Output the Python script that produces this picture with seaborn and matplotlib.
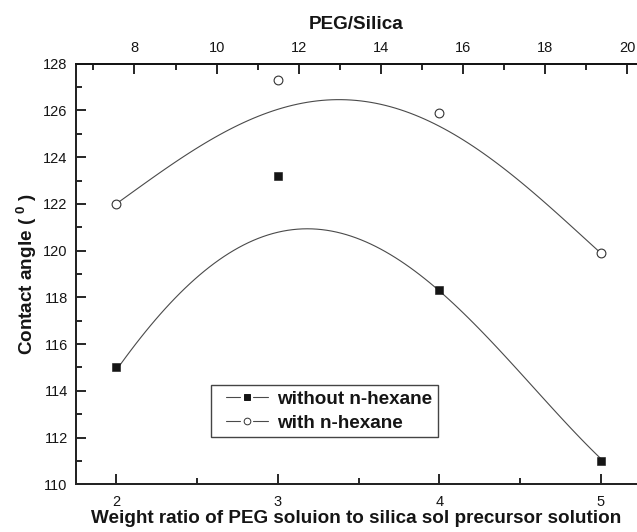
import numpy as np
import pandas as pd
import matplotlib
matplotlib.use("Agg")
import matplotlib.pyplot as plt
from matplotlib.lines import Line2D
from matplotlib.legend_handler import HandlerBase
import seaborn as sns

# ---- data: measured points ----
weight_ratio = [2, 3, 4, 5]
without_hexane = [115.0, 123.2, 118.3, 111.0]
with_hexane = [122.0, 127.3, 125.9, 119.9]
series_names = ["without n-hexane", "with n-hexane"]

# ---- data: fitted curves as drawn in the figure ----
curve_x = [2.0, 2.25, 2.5, 2.75, 3.0, 3.25, 3.5, 3.75, 4.0, 4.25, 4.5, 4.75, 5.0]
curve_without = [115.0, 116.95, 118.75, 120.15, 120.95, 121.05, 120.45, 119.5,
                 118.13, 116.6, 114.9, 113.0, 111.0]
curve_with = [122.0, 123.25, 124.4, 125.35, 126.05, 126.42, 126.38, 126.05,
              125.38, 124.26, 122.94, 121.46, 119.9]

bottom_ticks = [2, 3, 4, 5]
top_ticks = [8, 10, 12, 14, 16, 18, 20]
y_ticks = [110, 112, 114, 116, 118, 120, 122, 124, 126, 128]

sns.set_theme(style="ticks")
plt.rcParams["font.family"] = ["Liberation Sans", "DejaVu Sans"]
plt.rcParams["mathtext.fontset"] = "custom"
plt.rcParams["mathtext.rm"] = "Liberation Sans:bold"
plt.rcParams["mathtext.bf"] = "Liberation Sans:bold"
plt.rcParams["mathtext.it"] = "Liberation Sans:bold"

pts = pd.DataFrame({"ratio": weight_ratio, "without": without_hexane, "with": with_hexane})
crv = pd.DataFrame({"ratio": curve_x, "without": curve_without, "with": curve_with})

W, H = 637, 532
fig = plt.figure(figsize=(W / 100, H / 100), dpi=100)
ax = fig.add_axes([76 / W, 1 - 484.3 / H, (W - 76) / W, 420.6 / H])

line_col = "#4a4a4a"
ink = "#151515"

# fitted curves (smoothed through the library's polynomial regression)
sns.regplot(data=crv, x="ratio", y="without", order=4, ci=None, truncate=True,
            scatter=False, ax=ax, line_kws=dict(color=line_col, lw=0.8, zorder=2))
sns.regplot(data=crv, x="ratio", y="with", order=4, ci=None, truncate=True,
            scatter=False, ax=ax, line_kws=dict(color=line_col, lw=0.8, zorder=2))

# measured points
sns.scatterplot(data=pts, x="ratio", y="without", marker="s", s=34, color=ink,
                edgecolor=ink, linewidth=0.4, zorder=3, ax=ax)
sns.scatterplot(data=pts, x="ratio", y="with", marker="o", s=40, facecolor="white",
                edgecolor="#333333", linewidth=0.8, zorder=3, ax=ax)

ax.set_xlim(1.75, 5.224)
ax.set_ylim(110, 128)
ax.set_xticks(bottom_ticks)
ax.set_xticks([2.5, 3.5, 4.5], minor=True)
ax.set_yticks(y_ticks)
ax.set_yticks(np.arange(111, 128, 2), minor=True)
ax.set_xticklabels([str(t) for t in bottom_ticks])
ax.set_yticklabels([str(t) for t in y_ticks])

for side in ["left", "bottom", "top"]:
    ax.spines[side].set_linewidth(1.4)
    ax.spines[side].set_color(ink)
ax.spines["right"].set_visible(False)

ax.tick_params(which="major", direction="in", length=7, width=1.3, labelsize=10.5,
               pad=6, colors=ink, right=False, top=False)
ax.tick_params(axis="x", which="major", pad=8)
ax.tick_params(which="minor", direction="in", length=4, width=1.3, colors=ink,
               right=False, top=False)

ax.set_xlabel("Weight ratio of PEG soluion to silica sol precursor solution",
              fontsize=13.6, fontweight="bold", labelpad=0.5, color=ink)
ax.set_ylabel(r"Contact angle ( $^{0}$ )", fontsize=13.6, fontweight="bold",
              labelpad=3, color=ink)

# top axis (PEG/Silica)
ax2 = ax.twiny()
ax2.set_xlim(6.576, 20.24)
ax2.set_xticks(top_ticks)
ax2.set_xticks(np.arange(7, 21, 2), minor=True)
ax2.set_xticklabels([str(t) for t in top_ticks])
ax2.tick_params(which="major", direction="in", length=7, width=1.3, labelsize=10.5,
                pad=6, colors=ink)
ax2.tick_params(which="minor", direction="in", length=4, width=1.3, colors=ink)
ax2.spines["right"].set_visible(False)
ax2.spines["top"].set_linewidth(1.4)
ax2.spines["top"].set_color(ink)
ax2.set_xlabel("PEG/Silica", fontsize=13.6, fontweight="bold", labelpad=9, color=ink)


class GapHandler(HandlerBase):
    """Origin-style legend symbol: line - marker - line with small gaps."""

    def __init__(self, marker, mfc, mec, ms, offset=7.0, gap=4.5):
        super().__init__()
        self.marker, self.mfc, self.mec, self.ms = marker, mfc, mec, ms
        self.offset, self.gap = offset, gap

    def create_artists(self, legend, orig_handle, xdescent, ydescent, width, height,
                       fontsize, trans):
        x0 = -xdescent + self.offset
        x1 = -xdescent + width
        y = -ydescent + height / 2.0
        xm = (x0 + x1) / 2.0
        l1 = Line2D([x0, xm - self.gap], [y, y], color=line_col, lw=0.8)
        l2 = Line2D([xm + self.gap, x1], [y, y], color=line_col, lw=0.8)
        m = Line2D([xm], [y], linestyle="none", marker=self.marker, ms=self.ms,
                   mfc=self.mfc, mec=self.mec, mew=0.7)
        for a in (l1, l2, m):
            a.set_transform(trans)
        return [l1, l2, m]


h1 = Line2D([], [], color=line_col)
h2 = Line2D([], [], color=line_col, marker="o")
leg = ax.legend([h1, h2], series_names, loc="lower left", bbox_to_anchor=(0.2398, 0.1125),
                borderaxespad=0, frameon=True, fancybox=False,
                handler_map={h1: GapHandler("s", ink, ink, 4.6),
                             h2: GapHandler("o", "white", "#333333", 4.8)},
                handlelength=2.75, handletextpad=0.5, labelspacing=0.35, borderpad=0.28,
                prop=dict(family="Liberation Sans", weight="bold", size=13.6))
leg.get_frame().set_edgecolor(ink)
leg.get_frame().set_linewidth(1.0)
for t in leg.get_texts():
    t.set_color(ink)

fig.savefig("out.png", dpi=100)
